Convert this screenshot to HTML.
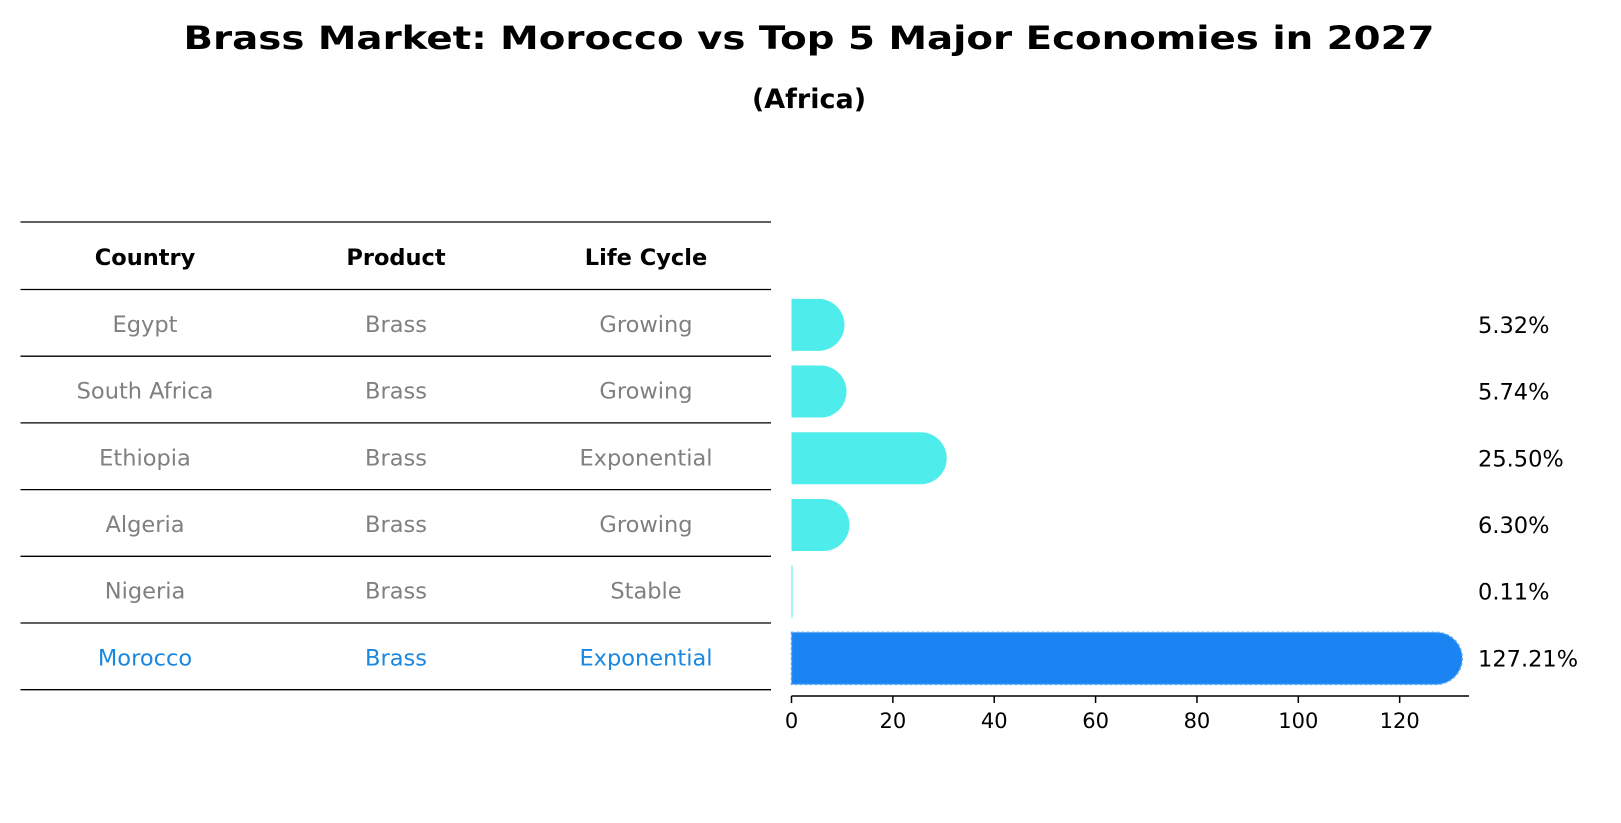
<!DOCTYPE html>
<html><head><meta charset="utf-8"><style>
html,body{margin:0;padding:0;background:#fff;}
svg{display:block;font-family:"DejaVu Sans","Liberation Sans",sans-serif;}
</style></head><body>
<svg id="chart" width="1621" height="823" viewBox="0 0 1621 823" xmlns="http://www.w3.org/2000/svg">
<text x="809" y="49" text-anchor="middle" font-size="32" font-weight="bold" textLength="1251" lengthAdjust="spacingAndGlyphs">Brass Market: Morocco vs Top 5 Major Economies in 2027</text>
<text x="809" y="108" text-anchor="middle" font-size="27" font-weight="bold">(Africa)</text>
<g id="table"></g>
<g id="bars"></g>
<g id="axis"></g>
</svg>
<script>
const countries = ["Egypt","South Africa","Ethiopia","Algeria","Nigeria","Morocco"];
const products = ["Brass","Brass","Brass","Brass","Brass","Brass"];
const lifeCycles = ["Growing","Growing","Exponential","Growing","Stable","Exponential"];
const values = [5.32,5.74,25.50,6.30,0.11,127.21];
const valueLabels = ["5.32%","5.74%","25.50%","6.30%","0.11%","127.21%"];
const xTicks = [0,20,40,60,80,100,120];
const headers = ["Country","Product","Life Cycle"];
const highlight = "Morocco";

const NS = "http://www.w3.org/2000/svg";
function mk(tag, attrs, parent){const e=document.createElementNS(NS,tag);for(const k in attrs)e.setAttribute(k,attrs[k]);parent.appendChild(e);return e;}

// scales
const x0 = 791.5, pxPerUnit = 5.068;
function xs(v){return x0 + v*pxPerUnit;}
const rowTop = 289.5, rowH = 66.7, headerTop = 222;
function rowCenter(i){return rowTop + rowH*(i+0.5);}

// table
const table = document.getElementById('table');
const colX = [145,396,646];
const lineYs = [headerTop, rowTop];
for(let i=0;i<countries.length;i++) lineYs.push(rowTop + rowH*(i+1));
lineYs.forEach((y)=>{
  const l = mk('line',{x1:20.5,x2:771,y1:y,y2:y,stroke:'#000','stroke-width':1.3},table);
  
  
});
headers.forEach((h,j)=>{
  const t = mk('text',{x:colX[j],y:(headerTop+rowTop)/2+9,'text-anchor':'middle','font-size':22.5,'font-weight':'bold',fill:'#000'},table);
  t.textContent = h;
  
  
});
countries.forEach((c,i)=>{
  const col = c===highlight ? '#1a87e0' : '#808080';
  [c, products[i], lifeCycles[i]].forEach((txt,j)=>{
    const t = mk('text',{x:colX[j],y:rowCenter(i)+9,'text-anchor':'middle','font-size':22.5,fill:col},table);
    t.textContent = txt;
    
    
  });
});

// bars
const bars = document.getElementById('bars');
const barH = 52, r = 26;
values.forEach((v,i)=>{
  const cy = rowCenter(i) + 2;
  const isH = countries[i]===highlight;
  const fill = isH ? '#1984f2' : '#4eecea';
  const xe = xs(v);
  let el;
  if (xe - x0 < 3) {
    el = mk('rect',{x:x0,y:cy-barH/2,width:Math.max(1,xe-x0),height:barH,fill:fill},bars);
  } else {
    const top = cy-barH/2, bot = cy+barH/2;
    el = mk('path',{d:`M${x0},${top} L${xe},${top} A${r},${r} 0 0 1 ${xe},${bot} L${x0},${bot} Z`,fill:fill},bars);
    if(isH){el.setAttribute('stroke','#5aa8f5');el.setAttribute('stroke-width','1.5');el.setAttribute('stroke-dasharray','3,2');}
  }
  
  
  const t = mk('text',{x:1478,y:cy+8,'font-size':22.5,fill:'#000'},bars);
  t.textContent = valueLabels[i];
  
  
});

// axis
const axis = document.getElementById('axis');
const ay = 696;
const al = mk('line',{x1:x0,x2:1469,y1:ay,y2:ay,stroke:'#000','stroke-width':1.5},axis);


xTicks.forEach(tv=>{
  const tk = mk('line',{x1:xs(tv),x2:xs(tv),y1:ay,y2:ay+7,stroke:'#000','stroke-width':1.5},axis);
  
  
  const t = mk('text',{x:xs(tv),y:ay+32,'text-anchor':'middle','font-size':21,fill:'#000'},axis);
  t.textContent = String(tv);
  
  
});
</script>
</body></html>
